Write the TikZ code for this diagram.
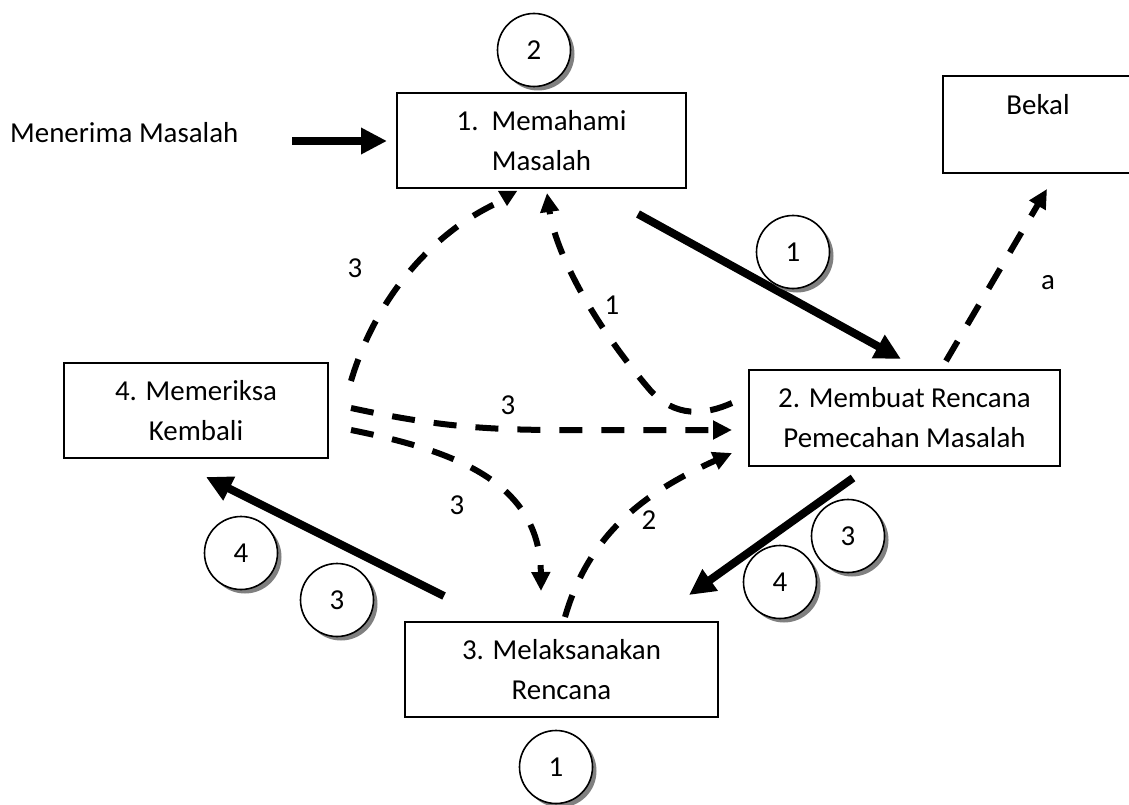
\documentclass[tikz,border=0pt]{standalone}
\usepackage{fontspec}
\setmainfont{Carlito}
\usetikzlibrary{arrows.meta,shadows,calc}
\begin{document}
\begin{tikzpicture}[x=1pt,y=-1pt,
  every node/.style={font=\fontsize{28.9}{40}\selectfont},
  box/.style={draw, line width=2pt, align=center, inner sep=0pt},
  disc/.style={circle, draw, line width=1.6pt, fill=white, minimum size=73pt, inner sep=0pt,
    drop shadow={shadow xshift=4pt, shadow yshift=-4pt, fill=black!50, opacity=1}},
  heavy/.style={line width=8pt, -{Triangle[length=26pt,width=25pt]}},
  dashy/.style={line width=6pt, dash pattern=on 23pt off 19pt, -{Triangle[length=19pt,width=18pt]}},
  dashnotip/.style={line width=6pt, dash pattern=on 23pt off 19pt},
  tag/.style={inner sep=0pt}]
\useasboundingbox (0,0) rectangle (1129,805);

% steps of the process
\node[box, minimum width=289pt, minimum height=95pt] (b1) at (541.5,140.5) {1.\ \ Memahami\\Masalah};
\node[box, minimum width=311pt, minimum height=96pt] (b2) at (904.5,418) {2. Membuat Rencana\\Pemecahan Masalah};
\node[box, minimum width=313pt, minimum height=95pt] (b3) at (561.5,669.5) {3. Melaksanakan\\Rencana};
\node[box, minimum width=264pt, minimum height=95pt] (b4) at (196,410.5) {4. Memeriksa\\Kembali};
\node[box, minimum width=190pt, minimum height=97pt] (bk) at (1038,124.5) {Bekal\\\mbox{}};
\node[tag, anchor=base west] (mm) at (10,143) {Menerima Masalah};

% main cycle
\coordinate (m0) at (292,141);
\draw[heavy, shorten >=9pt] (m0) -- (b1.west |- m0);
\draw[heavy] ($(b1.south east)+(-49,25)$) -- ($(b2.north west)+(153,-10)$);
\draw[heavy] ($(b2.south)+(-51.5,11)$) -- ($(b3.north east)+(-30,-26)$);
\draw[heavy] ($(b3.north west)+(40,-25)$) -- ($(b4.south west)+(143,18)$);

% provision link
\draw[dashy] ($(b2.north)+(41.5,-8)$) -- ($(bk.south)+(9,15)$);
\node[tag] (la) at (1048,283) {a};

% feedback loops
\draw[dashnotip] ($(b4.north east)+(22,19)$) .. controls (375,300) and (430,235) .. ($(b1.south)+(-46.5,15)$);
\fill ($(b1.south)+(-43.5,2)$) -- ($(b1.south)+(-24.5,2)$) -- ($(b1.south)+(-34.5,17)$) -- cycle;
\node[tag] (l3a) at (355,268) {3};

\draw[dashy] ($(b2.west)+(-16,-15)$) .. controls (705,415) and (675,418) .. (650,390)
  .. controls (590,320) and (555,250) .. ($(b1.south)+(5.5,4)$);
\node[tag] (l1) at (612,305) {1};

\draw[dashy] ($(b4.east)+(22,-2.5)$) .. controls (430,425) and (480,430) .. (560,430) -- ($(b2.west)+(-16,12)$);
\node[tag] (l3b) at (508,405) {3};

\draw[dashy] ($(b4.east)+(22,19.5)$) .. controls (450,450) and (540,480) .. ($(b3.north)+(-20.5,-30)$);
\node[tag] (l3c) at (457,505) {3};

\draw[dashy] ($(b3.north)+(3.5,-4)$) .. controls (590,530) and (650,490) .. ($(b2.west)+(-16,35)$);
\node[tag] (l2) at (649,520) {2};

% numbered markers
\node[disc] (n1) at (534,50) {2};
\node[disc] (n2) at (793,252) {1};
\node[disc] (n3) at (241,553) {4};
\node[disc] (n4) at (337,600) {3};
\node[disc] (n5) at (848,536) {3};
\node[disc] (n6) at (780,582) {4};
\node[disc] (n7) at (556,767) {1};
\end{tikzpicture}
\end{document}
